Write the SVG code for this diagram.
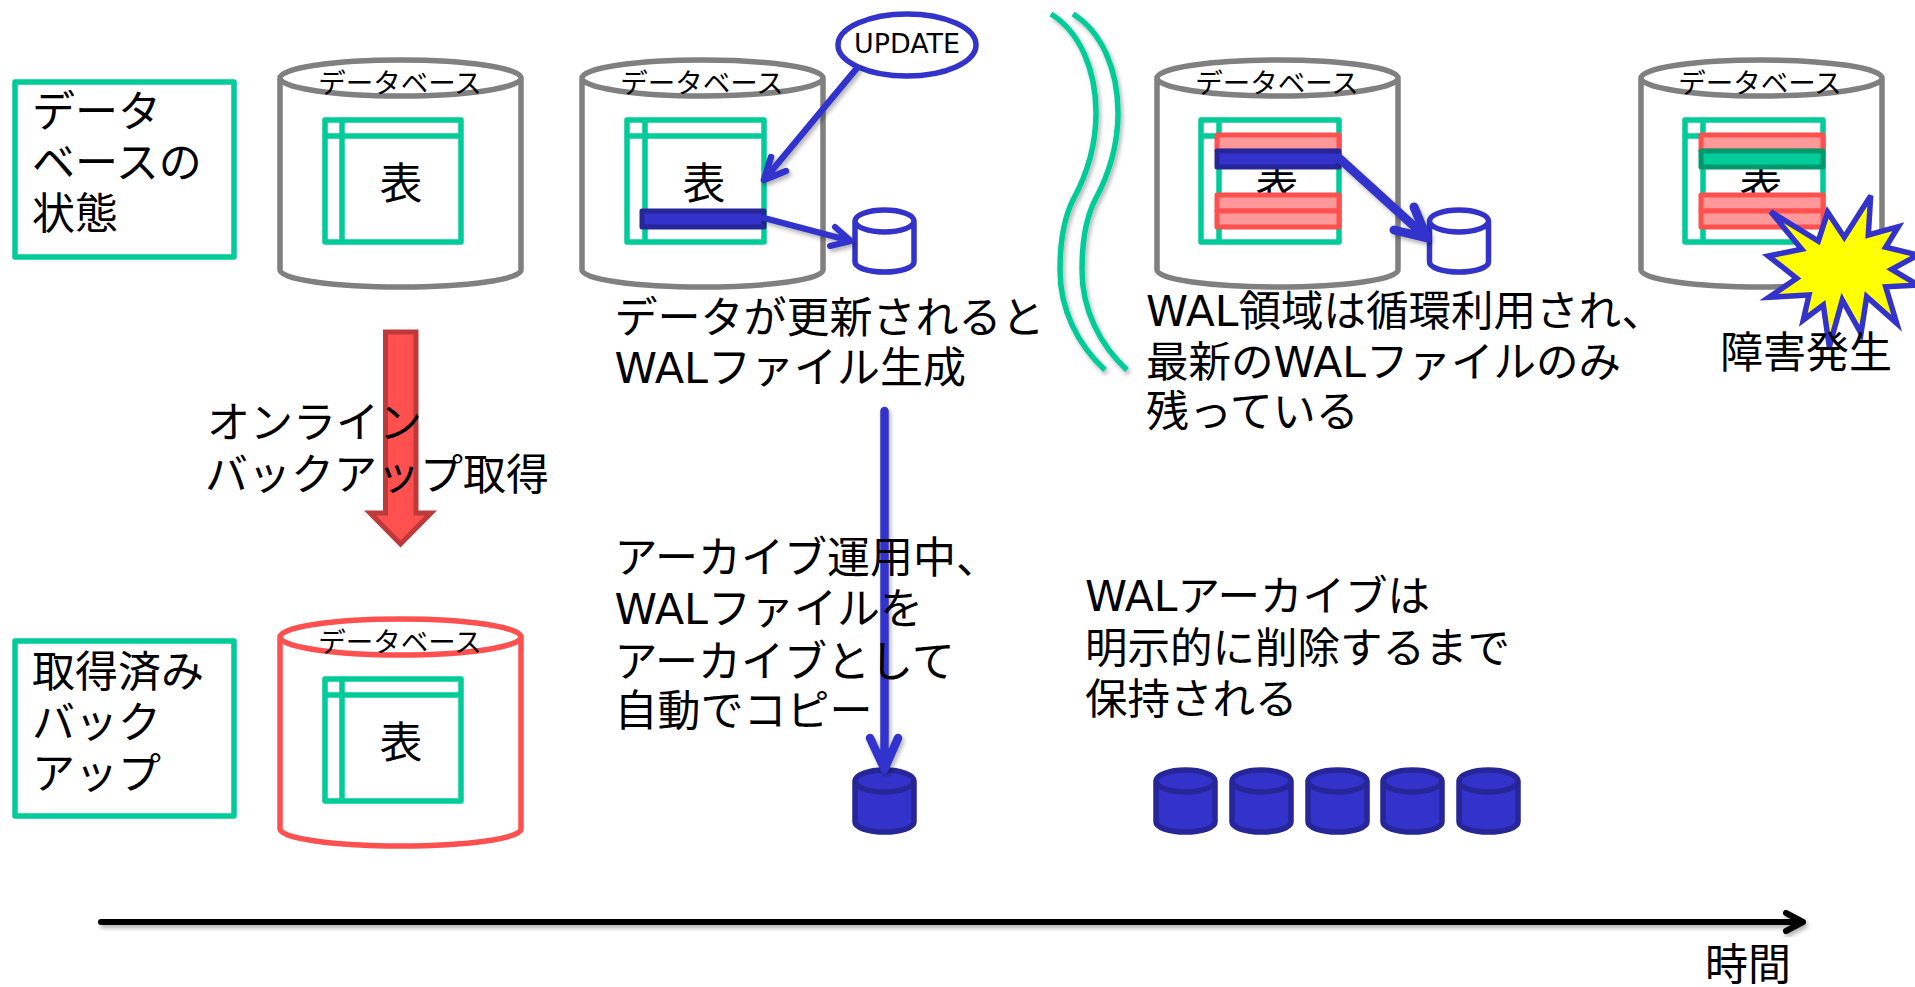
<svg xmlns="http://www.w3.org/2000/svg" width="1915" height="987" viewBox="0 0 1915 987">
<style>
text{font-family:"DejaVu Sans","Noto Sans CJK JP",sans-serif;fill:#000}
.t{font-size:43px}
.t2{font-size:42.500px}
.db{font-size:27.500px;text-anchor:middle}
.hyo{font-size:43px;text-anchor:middle}
.box{fill:#fff;stroke:#00cc99;stroke-width:5.500;stroke-linejoin:round}
.line{fill:none;stroke:#00cc99;stroke-width:5.500}
.cg{fill:#fff;stroke:#808080;stroke-width:5.500}
.cr{fill:#fff;stroke:#ff5050;stroke-width:5.500}
.cb{fill:#fff;stroke:#3333cc;stroke-width:5.500}
.cf{fill:#3333cc;stroke:#262699;stroke-width:5.500}
.rrow{fill:#ff9999;stroke:#ff5050;stroke-width:5;stroke-linejoin:round}
.brow{fill:#3333cc;stroke:#262699;stroke-width:5;stroke-linejoin:round}
.grow{fill:#00cc99;stroke:#00996e;stroke-width:5;stroke-linejoin:round}
.arr{fill:none;stroke:#3333cc;stroke-linecap:round;stroke-linejoin:round;filter:url(#sh)}
.sq{fill:none;stroke:#00cc99;stroke-width:5.500;filter:url(#sh)}
</style>
<defs>
<filter id="sh" x="-30%" y="-30%" width="160%" height="160%" filterUnits="objectBoundingBox">
<feDropShadow dx="2" dy="3" stdDeviation="2" flood-color="#000" flood-opacity="0.3"/>
</filter>
<path id="big" d="M0 18A120.500 18 0 0 1 241 18V210A120.500 17 0 0 1 0 210ZM241 18A120.500 18 0 0 1 0 18"/>
<path id="small" d="M0 11A29.500 11 0 0 1 59 11V52A29.500 10 0 0 1 0 52ZM59 11A29.500 11 0 0 1 0 11"/>
</defs>
<rect width="1915" height="987" fill="#fff"/>

<g id="label-state">
<rect class="box" x="15" y="82" width="219" height="175"/>
<text class="t" x="32" y="127">データ</text>
<text class="t" x="32" y="178">ベースの</text>
<text class="t" x="32" y="229">状態</text>
</g>
<g id="label-backup">
<rect class="box" x="15" y="641" width="219" height="175"/>
<text class="t" x="32" y="687">取得済み</text>
<text class="t" x="32" y="738">バック</text>
<text class="t" x="32" y="789">アップ</text>
</g>

<g id="db1">
<use href="#big" class="cg" x="280" y="60"/>
<text class="db" x="400" y="93">データベース</text>
<rect class="box" x="325" y="120" width="136" height="122"/>
<path class="line" d="M325 136H461M342 120V242"/>
<text class="hyo" x="401" y="199">表</text>
</g>

<g id="db2">
<use href="#big" class="cg" x="582" y="60"/>
<text class="db" x="702" y="93">データベース</text>
<rect class="box" x="627" y="120" width="137" height="122"/>
<path class="line" d="M627 136H764M645 120V242"/>
<text class="hyo" x="704" y="199">表</text>
<rect class="brow" x="642" y="211" width="122" height="16"/>
</g>

<g id="update">
<ellipse cx="907" cy="45" rx="69" ry="31" fill="#fff" stroke="#3333cc" stroke-width="5.500"/>
<text x="907" y="52.500" font-size="27" text-anchor="middle" textLength="106" lengthAdjust="spacingAndGlyphs">UPDATE</text>
</g>

<g id="wal1"><use href="#small" class="cb" x="855" y="210"/></g>

<g id="db3">
<use href="#big" class="cg" x="1157" y="60"/>
<text class="db" x="1277" y="93">データベース</text>
<rect class="box" x="1201" y="120" width="138" height="122"/>
<path class="line" d="M1201 136H1339M1219 120V242"/>
<text class="hyo" x="1277" y="199">表</text>
<rect class="rrow" x="1217" y="135" width="122" height="16"/>
<rect class="rrow" x="1217" y="195" width="122" height="16"/>
<rect class="rrow" x="1217" y="211" width="122" height="16"/>
<rect class="brow" x="1217" y="151" width="122" height="16"/>
</g>

<g id="wal2"><use href="#small" class="cb" x="1429.500" y="210"/></g>

<g id="db4">
<use href="#big" class="cg" x="1641" y="60"/>
<text class="db" x="1760" y="93">データベース</text>
<rect class="box" x="1685" y="120" width="138" height="122"/>
<path class="line" d="M1685 136H1823M1703 120V242"/>
<text class="hyo" x="1761" y="199">表</text>
<rect class="rrow" x="1701" y="135" width="122" height="16"/>
<rect class="rrow" x="1701" y="195" width="122" height="16"/>
<rect class="rrow" x="1701" y="211" width="122" height="16"/>
<rect class="grow" x="1701" y="151" width="122" height="16"/>
</g>

<g id="db-backup">
<use href="#big" class="cr" x="280" y="619"/>
<text class="db" x="400" y="652">データベース</text>
<rect class="box" x="325" y="679" width="136" height="122"/>
<path class="line" d="M325 695H461M342 679V801"/>
<text class="hyo" x="401" y="758">表</text>
</g>

<g id="archive1"><use href="#small" class="cf" x="855" y="770"/></g>
<g id="archive2"><use href="#small" class="cf" x="1156" y="770"/></g>
<g id="archive3"><use href="#small" class="cf" x="1232" y="770"/></g>
<g id="archive4"><use href="#small" class="cf" x="1308" y="770"/></g>
<g id="archive5"><use href="#small" class="cf" x="1383" y="770"/></g>
<g id="archive6"><use href="#small" class="cf" x="1459" y="770"/></g>

<g id="connectors">
<path d="M385.500 332H416V513H431L400.500 544L370 513H385.500Z" fill="#ff5050" stroke="#be3a3a" stroke-width="5"/>
<path class="arr" stroke-width="6.500" d="M857 68L764 180M771 157L764 180L786 171"/>
<path class="arr" stroke-width="6" d="M764 218L851 241M835 227L851 241L830 246"/>
<path class="arr" stroke-width="9" d="M1339 158L1427 238M1414 207L1427 238L1394 230"/>
<path class="arr" stroke-width="8.500" d="M884.500 411V769M870 738L884.500 769L898 738"/>
<path d="M101 922H1803M1786 913L1803 922L1786 931" fill="none" stroke="#000" stroke-width="6" stroke-linecap="round" stroke-linejoin="round" filter="url(#sh)"/>
<path class="sq" d="M1051 14C1080 32 1096 70 1096 113C1096 150 1085 178 1073 200C1064 218 1060 245 1060 270C1060 310 1078 345 1105 370"/>
<path class="sq" d="M1073 14C1102 32 1118 70 1118 113C1118 150 1107 178 1095 200C1086 218 1082 245 1082 270C1082 310 1100 345 1127 370"/>
</g>

<g id="burst">
<polygon points="1770.700,211.700 1818.300,241 1827.700,212.300 1844.300,237.300 1870.700,195.700 1868.300,235 1898.300,226.700 1885.700,247.300 1918,255 1891.700,269.300 1918,285 1885.700,286.700 1896.700,323.300 1866.700,296.700 1861,333.300 1842.300,300 1829.300,346.700 1823.300,305 1803.300,320 1809,295 1769,297.300 1796.700,278.300 1768.300,256 1801.700,249.300" fill="#ffff00" stroke="#3333cc" stroke-width="5.500"/>
</g>

<g id="captions">
<text class="t" x="207" y="438">オンライン</text>
<text class="t" x="205" y="490">バックアップ取得</text>
<text class="t" x="614.500" y="333">データが更新されると</text>
<text class="t" x="614.500" y="383">WALファイル生成</text>
<text class="t2" x="1146" y="326">WAL領域は循環利用され、</text>
<text class="t2" x="1146" y="377">最新のWALファイルのみ</text>
<text class="t" x="1146" y="427">残っている</text>
<text class="t" x="1720" y="368">障害発生</text>
<text class="t" x="614.500" y="573">アーカイブ運用中、</text>
<text class="t" x="614.500" y="624">WALファイルを</text>
<text class="t" x="614.500" y="677">アーカイブとして</text>
<text class="t" x="614.500" y="726">自動でコピー</text>
<text class="t2" x="1085" y="611">WALアーカイブは</text>
<text class="t2" x="1085" y="663">明示的に削除するまで</text>
<text class="t2" x="1085" y="714">保持される</text>
<text class="t" x="1705" y="980">時間</text>
</g>
</svg>
